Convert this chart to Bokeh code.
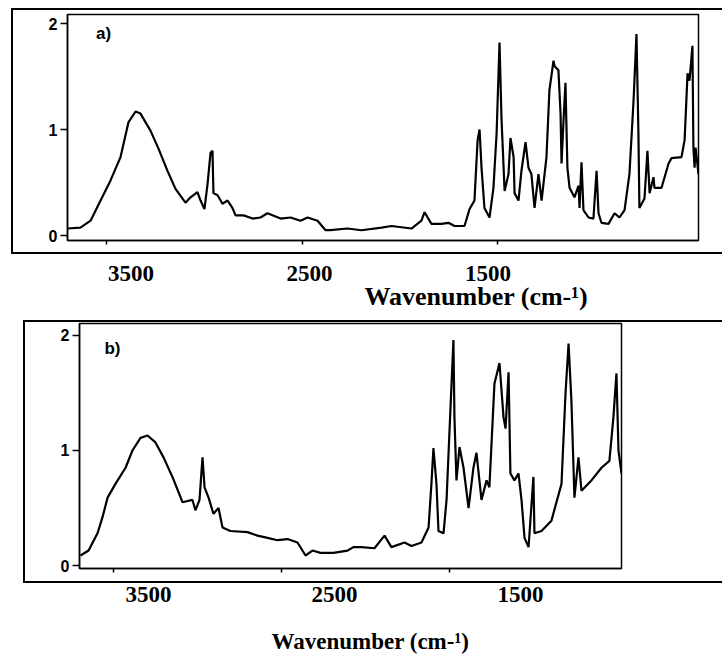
from bokeh.plotting import figure
from bokeh.models import Range1d, FixedTicker, Label, Title
from bokeh.embed import file_html
from bokeh.resources import INLINE

# ---- data ----
wn_a = [3700, 3634, 3582, 3531, 3480, 3429, 3388, 3352, 3327, 3276, 3235, 3189, 3148, 3097, 3071,
        3036, 3020, 3000, 2984, 2969, 2959, 2954, 2933, 2908, 2882, 2857, 2841, 2800, 2754, 2714,
        2678, 2611, 2560, 2509, 2473, 2422, 2381, 2356, 2269, 2197, 2095, 2044, 1942, 1891, 1875,
        1840, 1789, 1753, 1722, 1671, 1645, 1620, 1604, 1594, 1584, 1569, 1543, 1523, 1507, 1492,
        1482, 1466, 1446, 1436, 1420, 1415, 1395, 1380, 1359, 1344, 1329, 1313, 1293, 1277, 1252,
        1237, 1216, 1211, 1191, 1180, 1175, 1165, 1155, 1145, 1134, 1109, 1088, 1083, 1073, 1063,
        1037, 1012, 996, 986, 971, 935, 904, 879, 853, 828, 807, 792, 782, 777, 751, 736, 725, 705,
        700, 664, 628, 613, 562, 546, 531, 521, 506, 501, 495, 490, 475]
abs_a = [0.066, 0.075, 0.14, 0.33, 0.52, 0.74, 1.07, 1.17, 1.15, 0.99, 0.82, 0.61, 0.44, 0.31, 0.36,
         0.41, 0.33, 0.25, 0.49, 0.78, 0.80, 0.40, 0.38, 0.30, 0.33, 0.26, 0.19, 0.19, 0.16, 0.17,
         0.21, 0.16, 0.17, 0.14, 0.17, 0.14, 0.05, 0.05, 0.066, 0.05, 0.075, 0.09, 0.066, 0.14, 0.22,
         0.11, 0.11, 0.12, 0.09, 0.09, 0.25, 0.33, 0.90, 1.00, 0.64, 0.26, 0.17, 0.45, 0.96, 1.82,
         1.11, 0.42, 0.58, 0.92, 0.74, 0.40, 0.33, 0.61, 0.88, 0.64, 0.58, 0.26, 0.58, 0.33, 0.74,
         1.37, 1.65, 1.60, 1.56, 1.15, 0.68, 1.08, 1.44, 0.64, 0.45, 0.36, 0.47, 0.26, 0.69, 0.24,
         0.17, 0.16, 0.61, 0.21, 0.12, 0.11, 0.21, 0.17, 0.24, 0.58, 1.27, 1.90, 0.96, 0.26, 0.35,
         0.80, 0.40, 0.55, 0.45, 0.45, 0.68, 0.73, 0.74, 0.90, 1.53, 1.46, 1.79, 0.83, 0.64, 0.83, 0.58]

wn_b = [3694, 3646, 3593, 3563, 3533, 3486, 3426, 3385, 3337, 3295, 3248, 3200, 3147, 3087, 3028,
        3010, 2986, 2968, 2956, 2932, 2903, 2873, 2849, 2802, 2700, 2641, 2581, 2522, 2462, 2403,
        2355, 2314, 2266, 2189, 2105, 2070, 2022, 1945, 1885, 1844, 1766, 1725, 1665, 1623, 1606,
        1594, 1576, 1564, 1534, 1516, 1499, 1475, 1469, 1457, 1439, 1415, 1385, 1356, 1338, 1308,
        1278, 1261, 1231, 1201, 1177, 1165, 1147, 1136, 1112, 1088, 1070, 1052, 1028, 999, 993,
        951, 892, 832, 808, 790, 773, 755, 731, 713, 654, 594, 547, 523, 505, 493, 475]
abs_b = [0.087, 0.13, 0.28, 0.42, 0.59, 0.71, 0.85, 1.0, 1.11, 1.13, 1.07, 0.94, 0.77, 0.55, 0.57,
         0.48, 0.57, 0.94, 0.68, 0.59, 0.45, 0.50, 0.33, 0.30, 0.29, 0.26, 0.24, 0.22, 0.23, 0.20,
         0.087, 0.13, 0.11, 0.11, 0.13, 0.16, 0.16, 0.15, 0.26, 0.16, 0.20, 0.17, 0.20, 0.33, 0.71,
         1.02, 0.71, 0.30, 0.28, 0.57, 1.15, 1.96, 1.29, 0.74, 1.03, 0.85, 0.50, 0.85, 0.98, 0.57,
         0.74, 0.68, 1.58, 1.76, 1.29, 1.19, 1.68, 0.80, 0.74, 0.80, 0.57, 0.24, 0.16, 0.77, 0.28,
         0.30, 0.39, 0.71, 1.50, 1.93, 1.43, 0.59, 0.94, 0.65, 0.74, 0.85, 0.91, 1.29, 1.67, 1.0, 0.80]

x_ticks = [3500, 2500, 1500]
y_ticks = [0, 1, 2]
x_title = "Wavenumber (cm-\u00b9)"
tags = ["a)", "b)"]


def box_panel(wn, ab, fw, fh, bl, br, bt, bb, yr, tag, tag_xy, m_left, m_top):
    p = figure(frame_width=fw, frame_height=fh,
               x_range=Range1d(3700, 475), y_range=Range1d(*yr),
               min_border_left=bl, min_border_right=br, min_border_top=bt, min_border_bottom=bb,
               output_backend="svg", toolbar_location=None,
               background_fill_color="white", border_fill_color="white")
    p.styles = {"border-top": "2px solid black", "border-left": "2px solid black",
                "border-bottom": "2px solid black", "box-sizing": "content-box",
                "margin-left": f"{m_left}px", "margin-top": f"{m_top}px"}
    p.grid.visible = False
    p.outline_line_color = "black"
    p.outline_line_width = 1.5

    p.line(wn, ab, line_color="black", line_width=2.2)

    ya = p.yaxis[0]
    ya.ticker = FixedTicker(ticks=y_ticks)
    ya.minor_tick_line_color = None
    ya.major_tick_out = 7
    ya.major_tick_in = 0
    ya.major_tick_line_width = 1.5
    ya.axis_line_width = 1.5
    ya.major_label_standoff = 3
    ya.major_label_text_font = "Liberation Sans"
    ya.major_label_text_font_style = "bold"
    ya.major_label_text_font_size = "16px"
    ya.major_label_text_color = "black"

    xa = p.xaxis[0]
    xa.ticker = FixedTicker(ticks=x_ticks)
    xa.minor_tick_line_color = None
    xa.major_tick_out = 4
    xa.major_tick_in = 0
    xa.major_tick_line_width = 1.5
    xa.axis_line_width = 1.5
    xa.major_label_text_font_size = "1px"
    xa.major_label_text_alpha = 0
    xa.major_label_standoff = 0

    p.add_layout(Label(x=tag_xy[0], y=tag_xy[1], x_units="screen", y_units="screen", text=tag,
                       text_font="Liberation Sans", text_font_style="bold", text_font_size="17px",
                       text_align="center", text_baseline="middle", text_color="black"))
    return p


def label_strip(fw, bl, br, height, lab_range, standoff, title_offset, title_size, title_standoff):
    s = figure(frame_width=fw, frame_height=1,
               x_range=Range1d(*lab_range), y_range=Range1d(0, 1),
               min_border_left=bl, min_border_right=br, min_border_top=0,
               min_border_bottom=height - 1, y_axis_location=None,
               output_backend="svg", toolbar_location=None,
               background_fill_color="white", border_fill_color="white")
    s.outline_line_color = None
    s.grid.visible = False
    la = s.xaxis[0]
    la.ticker = FixedTicker(ticks=x_ticks)
    la.axis_line_color = None
    la.major_tick_line_color = None
    la.minor_tick_line_color = None
    la.major_label_standoff = standoff
    la.major_label_text_font = "Liberation Serif"
    la.major_label_text_font_style = "bold"
    la.major_label_text_font_size = "23px"
    la.major_label_text_color = "black"
    s.add_layout(Title(text=x_title, align="left", offset=title_offset, standoff=title_standoff,
                       text_font="Liberation Serif", text_font_style="bold",
                       text_font_size=title_size, text_color="black"), "below")
    return s


pa = box_panel(wn_a, abs_a, 631, 226, 54, 24, 4, 12, (-0.047, 2.085),
               tags[0], (36, 207), 11, 8)
sa = label_strip(631, 67, 24, 66, (3856, 321), 4, 297, "26px", -8)
pb = box_panel(wn_b, abs_b, 542, 245, 54, 101, 1, 13, (-0.026, 2.104),
               tags[1], (33, 220), 23, 0)
sb = label_strip(542, 79, 101, 70, (3871, 957), -4, 192, "23px", 44)

open("out.html", "w").write(file_html([pa, sa, pb, sb], INLINE))
